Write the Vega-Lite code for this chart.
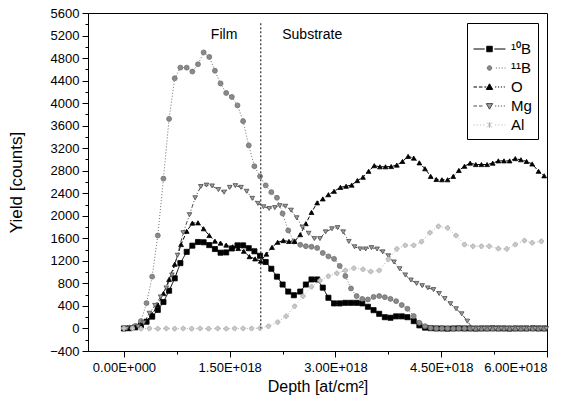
{
"$schema":"https://vega.github.io/schema/vega-lite/v6.json",
"autosize":{"type":"none"},
"width":459,"height":338,
"padding":{"left":88,"top":13,"right":32,"bottom":61},
"config":{"font":"Liberation Sans","view":{"stroke":"black","strokeWidth":1},"axis":{"grid":false,"domainColor":"black","tickColor":"black","labelColor":"black","titleColor":"black","titleFontWeight":"normal","labelFont":"Liberation Sans","titleFont":"Liberation Sans"}},
"datasets":{"main":[
{"s":"¹⁰B","x":0,"y":0},{"s":"¹⁰B","x":0.08,"y":5},{"s":"¹⁰B","x":0.16,"y":20},{"s":"¹⁰B","x":0.24,"y":55},{"s":"¹⁰B","x":0.32,"y":120},{"s":"¹⁰B","x":0.40,"y":210},{"s":"¹⁰B","x":0.48,"y":330},{"s":"¹⁰B","x":0.56,"y":470},{"s":"¹⁰B","x":0.64,"y":670},{"s":"¹⁰B","x":0.72,"y":890},{"s":"¹⁰B","x":0.80,"y":1160},{"s":"¹⁰B","x":0.89,"y":1360},{"s":"¹⁰B","x":0.97,"y":1470},{"s":"¹⁰B","x":1.05,"y":1535},{"s":"¹⁰B","x":1.13,"y":1530},{"s":"¹⁰B","x":1.21,"y":1480},{"s":"¹⁰B","x":1.29,"y":1410},{"s":"¹⁰B","x":1.37,"y":1345},{"s":"¹⁰B","x":1.45,"y":1350},{"s":"¹⁰B","x":1.53,"y":1420},{"s":"¹⁰B","x":1.61,"y":1475},{"s":"¹⁰B","x":1.69,"y":1475},{"s":"¹⁰B","x":1.77,"y":1425},{"s":"¹⁰B","x":1.85,"y":1370},{"s":"¹⁰B","x":1.93,"y":1290},{"s":"¹⁰B","x":2.01,"y":1180},{"s":"¹⁰B","x":2.09,"y":1060},{"s":"¹⁰B","x":2.17,"y":920},{"s":"¹⁰B","x":2.25,"y":780},{"s":"¹⁰B","x":2.33,"y":655},{"s":"¹⁰B","x":2.41,"y":590},{"s":"¹⁰B","x":2.50,"y":655},{"s":"¹⁰B","x":2.58,"y":780},{"s":"¹⁰B","x":2.66,"y":870},{"s":"¹⁰B","x":2.74,"y":870},{"s":"¹⁰B","x":2.82,"y":725},{"s":"¹⁰B","x":2.90,"y":545},{"s":"¹⁰B","x":2.98,"y":445},{"s":"¹⁰B","x":3.06,"y":445},{"s":"¹⁰B","x":3.14,"y":455},{"s":"¹⁰B","x":3.22,"y":455},{"s":"¹⁰B","x":3.30,"y":455},{"s":"¹⁰B","x":3.38,"y":445},{"s":"¹⁰B","x":3.46,"y":385},{"s":"¹⁰B","x":3.54,"y":325},{"s":"¹⁰B","x":3.62,"y":260},{"s":"¹⁰B","x":3.70,"y":200},{"s":"¹⁰B","x":3.78,"y":190},{"s":"¹⁰B","x":3.86,"y":215},{"s":"¹⁰B","x":3.94,"y":215},{"s":"¹⁰B","x":4.02,"y":200},{"s":"¹⁰B","x":4.11,"y":130},{"s":"¹⁰B","x":4.19,"y":55},{"s":"¹⁰B","x":4.27,"y":15},{"s":"¹⁰B","x":4.35,"y":5},{"s":"¹⁰B","x":4.43,"y":0},{"s":"¹⁰B","x":4.51,"y":0},{"s":"¹⁰B","x":4.59,"y":-3},{"s":"¹⁰B","x":4.67,"y":0},{"s":"¹⁰B","x":4.75,"y":2},{"s":"¹⁰B","x":4.83,"y":0},{"s":"¹⁰B","x":4.91,"y":0},{"s":"¹⁰B","x":4.99,"y":-2},{"s":"¹⁰B","x":5.07,"y":0},{"s":"¹⁰B","x":5.15,"y":0},{"s":"¹⁰B","x":5.23,"y":2},{"s":"¹⁰B","x":5.31,"y":0},{"s":"¹⁰B","x":5.39,"y":0},{"s":"¹⁰B","x":5.47,"y":-2},{"s":"¹⁰B","x":5.55,"y":0},{"s":"¹⁰B","x":5.63,"y":0},{"s":"¹⁰B","x":5.71,"y":0},{"s":"¹⁰B","x":5.80,"y":2},{"s":"¹⁰B","x":5.88,"y":0},{"s":"¹⁰B","x":5.96,"y":0},
{"s":"¹¹B","x":0,"y":0},{"s":"¹¹B","x":0.08,"y":15},{"s":"¹¹B","x":0.16,"y":45},{"s":"¹¹B","x":0.24,"y":130},{"s":"¹¹B","x":0.32,"y":450},{"s":"¹¹B","x":0.40,"y":920},{"s":"¹¹B","x":0.48,"y":1650},{"s":"¹¹B","x":0.56,"y":2660},{"s":"¹¹B","x":0.64,"y":3720},{"s":"¹¹B","x":0.72,"y":4440},{"s":"¹¹B","x":0.80,"y":4630},{"s":"¹¹B","x":0.89,"y":4630},{"s":"¹¹B","x":0.97,"y":4560},{"s":"¹¹B","x":1.05,"y":4690},{"s":"¹¹B","x":1.13,"y":4900},{"s":"¹¹B","x":1.21,"y":4820},{"s":"¹¹B","x":1.29,"y":4575},{"s":"¹¹B","x":1.37,"y":4350},{"s":"¹¹B","x":1.45,"y":4180},{"s":"¹¹B","x":1.53,"y":4110},{"s":"¹¹B","x":1.61,"y":3960},{"s":"¹¹B","x":1.69,"y":3680},{"s":"¹¹B","x":1.77,"y":3250},{"s":"¹¹B","x":1.85,"y":2880},{"s":"¹¹B","x":1.93,"y":2700},{"s":"¹¹B","x":2.01,"y":2540},{"s":"¹¹B","x":2.09,"y":2420},{"s":"¹¹B","x":2.17,"y":2320},{"s":"¹¹B","x":2.25,"y":2040},{"s":"¹¹B","x":2.33,"y":1740},{"s":"¹¹B","x":2.41,"y":1545},{"s":"¹¹B","x":2.50,"y":1485},{"s":"¹¹B","x":2.58,"y":1460},{"s":"¹¹B","x":2.66,"y":1450},{"s":"¹¹B","x":2.74,"y":1430},{"s":"¹¹B","x":2.82,"y":1340},{"s":"¹¹B","x":2.90,"y":1280},{"s":"¹¹B","x":2.98,"y":1235},{"s":"¹¹B","x":3.06,"y":1110},{"s":"¹¹B","x":3.14,"y":930},{"s":"¹¹B","x":3.22,"y":710},{"s":"¹¹B","x":3.30,"y":575},{"s":"¹¹B","x":3.38,"y":525},{"s":"¹¹B","x":3.46,"y":515},{"s":"¹¹B","x":3.54,"y":560},{"s":"¹¹B","x":3.62,"y":575},{"s":"¹¹B","x":3.70,"y":555},{"s":"¹¹B","x":3.78,"y":525},{"s":"¹¹B","x":3.86,"y":485},{"s":"¹¹B","x":3.94,"y":415},{"s":"¹¹B","x":4.02,"y":350},{"s":"¹¹B","x":4.11,"y":220},{"s":"¹¹B","x":4.19,"y":100},{"s":"¹¹B","x":4.27,"y":40},{"s":"¹¹B","x":4.35,"y":10},{"s":"¹¹B","x":4.43,"y":0},{"s":"¹¹B","x":4.51,"y":0},{"s":"¹¹B","x":4.59,"y":0},{"s":"¹¹B","x":4.67,"y":-3},{"s":"¹¹B","x":4.75,"y":0},{"s":"¹¹B","x":4.83,"y":0},{"s":"¹¹B","x":4.91,"y":2},{"s":"¹¹B","x":4.99,"y":0},{"s":"¹¹B","x":5.07,"y":0},{"s":"¹¹B","x":5.15,"y":-2},{"s":"¹¹B","x":5.23,"y":0},{"s":"¹¹B","x":5.31,"y":0},{"s":"¹¹B","x":5.39,"y":2},{"s":"¹¹B","x":5.47,"y":0},{"s":"¹¹B","x":5.55,"y":0},{"s":"¹¹B","x":5.63,"y":-2},{"s":"¹¹B","x":5.71,"y":0},{"s":"¹¹B","x":5.80,"y":0},{"s":"¹¹B","x":5.88,"y":0},{"s":"¹¹B","x":5.96,"y":0},
{"s":"O","x":0,"y":0},{"s":"O","x":0.08,"y":5},{"s":"O","x":0.16,"y":25},{"s":"O","x":0.24,"y":65},{"s":"O","x":0.32,"y":140},{"s":"O","x":0.40,"y":250},{"s":"O","x":0.48,"y":420},{"s":"O","x":0.56,"y":620},{"s":"O","x":0.64,"y":870},{"s":"O","x":0.72,"y":1140},{"s":"O","x":0.81,"y":1490},{"s":"O","x":0.89,"y":1725},{"s":"O","x":0.97,"y":1870},{"s":"O","x":1.05,"y":1875},{"s":"O","x":1.13,"y":1770},{"s":"O","x":1.21,"y":1650},{"s":"O","x":1.29,"y":1550},{"s":"O","x":1.37,"y":1515},{"s":"O","x":1.45,"y":1480},{"s":"O","x":1.54,"y":1450},{"s":"O","x":1.62,"y":1420},{"s":"O","x":1.70,"y":1370},{"s":"O","x":1.78,"y":1275},{"s":"O","x":1.86,"y":1235},{"s":"O","x":1.94,"y":1195},{"s":"O","x":2.02,"y":1320},{"s":"O","x":2.10,"y":1440},{"s":"O","x":2.18,"y":1530},{"s":"O","x":2.26,"y":1560},{"s":"O","x":2.34,"y":1545},{"s":"O","x":2.42,"y":1545},{"s":"O","x":2.50,"y":1665},{"s":"O","x":2.58,"y":1860},{"s":"O","x":2.66,"y":2060},{"s":"O","x":2.74,"y":2230},{"s":"O","x":2.82,"y":2300},{"s":"O","x":2.90,"y":2375},{"s":"O","x":2.98,"y":2435},{"s":"O","x":3.07,"y":2505},{"s":"O","x":3.15,"y":2525},{"s":"O","x":3.23,"y":2545},{"s":"O","x":3.31,"y":2625},{"s":"O","x":3.39,"y":2685},{"s":"O","x":3.47,"y":2790},{"s":"O","x":3.55,"y":2890},{"s":"O","x":3.63,"y":2870},{"s":"O","x":3.71,"y":2870},{"s":"O","x":3.79,"y":2875},{"s":"O","x":3.87,"y":2900},{"s":"O","x":3.95,"y":2965},{"s":"O","x":4.03,"y":3055},{"s":"O","x":4.11,"y":3025},{"s":"O","x":4.19,"y":2940},{"s":"O","x":4.27,"y":2835},{"s":"O","x":4.35,"y":2700},{"s":"O","x":4.43,"y":2645},{"s":"O","x":4.51,"y":2640},{"s":"O","x":4.59,"y":2640},{"s":"O","x":4.67,"y":2700},{"s":"O","x":4.75,"y":2805},{"s":"O","x":4.83,"y":2880},{"s":"O","x":4.91,"y":2935},{"s":"O","x":4.99,"y":2910},{"s":"O","x":5.07,"y":2910},{"s":"O","x":5.15,"y":2910},{"s":"O","x":5.23,"y":2935},{"s":"O","x":5.31,"y":2975},{"s":"O","x":5.39,"y":2975},{"s":"O","x":5.47,"y":2975},{"s":"O","x":5.55,"y":3015},{"s":"O","x":5.63,"y":2995},{"s":"O","x":5.71,"y":2965},{"s":"O","x":5.79,"y":2920},{"s":"O","x":5.88,"y":2790},{"s":"O","x":5.96,"y":2710},
{"s":"Mg","x":0.04,"y":0},{"s":"Mg","x":0.12,"y":10},{"s":"Mg","x":0.20,"y":35},{"s":"Mg","x":0.28,"y":100},{"s":"Mg","x":0.36,"y":270},{"s":"Mg","x":0.44,"y":410},{"s":"Mg","x":0.52,"y":560},{"s":"Mg","x":0.60,"y":720},{"s":"Mg","x":0.68,"y":950},{"s":"Mg","x":0.76,"y":1300},{"s":"Mg","x":0.84,"y":1700},{"s":"Mg","x":0.93,"y":2020},{"s":"Mg","x":1.01,"y":2320},{"s":"Mg","x":1.09,"y":2520},{"s":"Mg","x":1.17,"y":2545},{"s":"Mg","x":1.25,"y":2530},{"s":"Mg","x":1.34,"y":2465},{"s":"Mg","x":1.42,"y":2420},{"s":"Mg","x":1.50,"y":2505},{"s":"Mg","x":1.58,"y":2535},{"s":"Mg","x":1.66,"y":2505},{"s":"Mg","x":1.74,"y":2435},{"s":"Mg","x":1.82,"y":2310},{"s":"Mg","x":1.90,"y":2220},{"s":"Mg","x":1.98,"y":2160},{"s":"Mg","x":2.06,"y":2130},{"s":"Mg","x":2.14,"y":2145},{"s":"Mg","x":2.21,"y":2180},{"s":"Mg","x":2.29,"y":2170},{"s":"Mg","x":2.37,"y":2100},{"s":"Mg","x":2.45,"y":1965},{"s":"Mg","x":2.53,"y":1800},{"s":"Mg","x":2.62,"y":1690},{"s":"Mg","x":2.70,"y":1595},{"s":"Mg","x":2.78,"y":1595},{"s":"Mg","x":2.86,"y":1715},{"s":"Mg","x":2.95,"y":1770},{"s":"Mg","x":3.03,"y":1790},{"s":"Mg","x":3.11,"y":1715},{"s":"Mg","x":3.19,"y":1545},{"s":"Mg","x":3.27,"y":1450},{"s":"Mg","x":3.35,"y":1412},{"s":"Mg","x":3.43,"y":1412},{"s":"Mg","x":3.51,"y":1435},{"s":"Mg","x":3.59,"y":1410},{"s":"Mg","x":3.67,"y":1360},{"s":"Mg","x":3.75,"y":1290},{"s":"Mg","x":3.83,"y":1180},{"s":"Mg","x":3.91,"y":1060},{"s":"Mg","x":3.99,"y":950},{"s":"Mg","x":4.07,"y":860},{"s":"Mg","x":4.15,"y":800},{"s":"Mg","x":4.23,"y":760},{"s":"Mg","x":4.31,"y":720},{"s":"Mg","x":4.39,"y":690},{"s":"Mg","x":4.47,"y":620},{"s":"Mg","x":4.55,"y":530},{"s":"Mg","x":4.63,"y":440},{"s":"Mg","x":4.71,"y":350},{"s":"Mg","x":4.79,"y":260},{"s":"Mg","x":4.87,"y":130},{"s":"Mg","x":4.95,"y":0},{"s":"Mg","x":5.03,"y":0},{"s":"Mg","x":5.11,"y":0},{"s":"Mg","x":5.19,"y":0},{"s":"Mg","x":5.27,"y":0},{"s":"Mg","x":5.35,"y":0},{"s":"Mg","x":5.43,"y":0},{"s":"Mg","x":5.51,"y":0},{"s":"Mg","x":5.59,"y":0},{"s":"Mg","x":5.67,"y":0},{"s":"Mg","x":5.75,"y":0},{"s":"Mg","x":5.83,"y":0},{"s":"Mg","x":5.91,"y":0},{"s":"Mg","x":5.99,"y":0},
{"s":"Al","x":0.0,"y":0},{"s":"Al","x":0.12,"y":0},{"s":"Al","x":0.24,"y":-5},{"s":"Al","x":0.36,"y":0},{"s":"Al","x":0.48,"y":-5},{"s":"Al","x":0.60,"y":0},{"s":"Al","x":0.72,"y":-5},{"s":"Al","x":0.84,"y":0},{"s":"Al","x":0.96,"y":-5},{"s":"Al","x":1.08,"y":0},{"s":"Al","x":1.20,"y":-5},{"s":"Al","x":1.33,"y":0},{"s":"Al","x":1.45,"y":-5},{"s":"Al","x":1.57,"y":0},{"s":"Al","x":1.69,"y":0},{"s":"Al","x":1.81,"y":0},{"s":"Al","x":1.93,"y":5},{"s":"Al","x":2.05,"y":40},{"s":"Al","x":2.18,"y":112},{"s":"Al","x":2.30,"y":218},{"s":"Al","x":2.42,"y":395},{"s":"Al","x":2.54,"y":573},{"s":"Al","x":2.66,"y":740},{"s":"Al","x":2.78,"y":850},{"s":"Al","x":2.90,"y":928},{"s":"Al","x":3.02,"y":980},{"s":"Al","x":3.14,"y":1030},{"s":"Al","x":3.26,"y":1070},{"s":"Al","x":3.39,"y":1050},{"s":"Al","x":3.50,"y":1010},{"s":"Al","x":3.62,"y":1030},{"s":"Al","x":3.75,"y":1230},{"s":"Al","x":3.87,"y":1412},{"s":"Al","x":3.99,"y":1475},{"s":"Al","x":4.11,"y":1475},{"s":"Al","x":4.22,"y":1540},{"s":"Al","x":4.34,"y":1700},{"s":"Al","x":4.46,"y":1814},{"s":"Al","x":4.59,"y":1785},{"s":"Al","x":4.71,"y":1650},{"s":"Al","x":4.83,"y":1490},{"s":"Al","x":4.95,"y":1460},{"s":"Al","x":5.07,"y":1460},{"s":"Al","x":5.18,"y":1460},{"s":"Al","x":5.31,"y":1418},{"s":"Al","x":5.43,"y":1412},{"s":"Al","x":5.55,"y":1490},{"s":"Al","x":5.68,"y":1560},{"s":"Al","x":5.79,"y":1520},{"s":"Al","x":5.92,"y":1548}
]},
"layer":[
{"data":{"name":"main"},
 "mark":{"type":"line","strokeWidth":1},
 "encoding":{
  "x":{"field":"x","type":"quantitative","scale":{"domain":[-0.51,6.0],"nice":false,"zero":false},
   "axis":{"orient":"bottom","values":[0,1.5,3,4.5,6],"tickSize":6,"labelPadding":4,"labelFontSize":13,"labelExpr":"format(datum.value,'.2f') + (datum.value == 0 ? 'E+000' : 'E+018')","title":"Depth [at/cm²]","titleFontSize":16,"titlePadding":4}},
  "y":{"field":"y","type":"quantitative","scale":{"domain":[-400,5600],"nice":false,"zero":false},
   "axis":{"orient":"left","values":[-400,0,400,800,1200,1600,2000,2400,2800,3200,3600,4000,4400,4800,5200,5600],"format":"d","tickSize":6,"labelPadding":3,"labelFontSize":13,"title":"Yield [counts]","titleFontSize":17,"titlePadding":24}},
  "stroke":{"field":"s","type":"nominal","scale":{"domain":["¹⁰B","¹¹B","O","Mg","Al"],"range":["#000000","#6e6e6e","#000000","#4a4a4a","#b4b4b4"]},"legend":null},
  "strokeDash":{"field":"s","type":"nominal","scale":{"domain":["¹⁰B","¹¹B","O","Mg","Al"],"range":[[1,0],[1,2],[4,2],[4,2,1,2],[1,2]]},"legend":null}
 }},
{"data":{"name":"main"},
 "mark":{"type":"point","filled":true,"strokeWidth":0.8,"opacity":1},
 "encoding":{
  "x":{"field":"x","type":"quantitative","axis":null},
  "y":{"field":"y","type":"quantitative","axis":null},
  "shape":{"field":"s","type":"nominal","scale":{"domain":["¹⁰B","¹¹B","O","Mg","Al"],"range":["square","circle","triangle-up","triangle-down","cross"]},"legend":null},
  "size":{"field":"s","type":"nominal","scale":{"domain":["¹⁰B","¹¹B","O","Mg","Al"],"range":[26,20,28,26,18]},"legend":null},
  "fill":{"field":"s","type":"nominal","scale":{"domain":["¹⁰B","¹¹B","O","Mg","Al"],"range":["#000000","#8a8a8a","#000000","#a0a0a0","#cccccc"]},"legend":null},
  "stroke":{"field":"s","type":"nominal","legend":null}
 }},
{"data":{"name":"main"},
 "transform":[{"filter":"false"}],
 "mark":{"type":"point","filled":true,"strokeWidth":1,"opacity":1},
 "encoding":{
  "x":{"field":"x","type":"quantitative","axis":null},
  "y":{"field":"y","type":"quantitative","axis":null},
  "shape":{"field":"s","type":"nominal","scale":{"domain":["¹⁰B","¹¹B","O","Mg","Al"],"range":[
   "M-1,0H-0.3M0.3,0H1M-0.17,-0.17H0.17V0.17H-0.17Z",
   "M0.4,0H0.47M0.58,0H0.65M0.76,0H0.83M0.94,0H1M0.14,0A0.14,0.14,0,1,1,-0.14,0A0.14,0.14,0,1,1,0.14,0Z",
   "M-1,0H-0.78M-0.66,0H-0.44M-0.32,0H-0.2M0.35,0H0.42M0.53,0H0.6M0.71,0H0.78M0.89,0H0.96M0,-0.2L0.2,0.15H-0.2Z",
   "M-1,0H-0.78M-0.66,0H-0.44M0.35,0H0.42M0.53,0H0.6M0.71,0H0.78M0.89,0H0.96M0,0.2L0.2,-0.15H-0.2Z",
   "M-1,0H-0.93M-0.8,0H-0.73M-0.6,0H-0.53M-0.4,0H-0.33M0.35,0H0.42M0.55,0H0.62M0.75,0H0.82M0.95,0H1M-0.15,-0.15L0.15,0.15M0.15,-0.15L-0.15,0.15M0,-0.18V0.18"]},
   "legend":{"orient":"none","legendX":379,"legendY":10,"title":" ","titleFontSize":9,"titlePadding":3,"padding":6,"strokeColor":"black","fillColor":"white","symbolSize":1024,"symbolStrokeWidth":1,"symbolOpacity":1,"clipHeight":16,"rowPadding":3,"labelFontSize":15,"labelColor":"black","labelOffset":5}},
  "fill":{"field":"s","type":"nominal","scale":{"domain":["¹⁰B","¹¹B","O","Mg","Al"],"range":["#000000","#8a8a8a","#000000","#a0a0a0","#cccccc"]},
   "legend":{"orient":"none","legendX":379,"legendY":10,"title":" ","titleFontSize":9,"titlePadding":3,"padding":6,"strokeColor":"black","fillColor":"white","symbolSize":1024,"symbolStrokeWidth":1,"symbolOpacity":1,"clipHeight":16,"rowPadding":3,"labelFontSize":15,"labelColor":"black","labelOffset":5}},
  "stroke":{"field":"s","type":"nominal","scale":{"domain":["¹⁰B","¹¹B","O","Mg","Al"],"range":["#000000","#6e6e6e","#000000","#4a4a4a","#b4b4b4"]},
   "legend":{"orient":"none","legendX":379,"legendY":10,"title":" ","titleFontSize":9,"titlePadding":3,"padding":6,"strokeColor":"black","fillColor":"white","symbolSize":1024,"symbolStrokeWidth":1,"symbolOpacity":1,"clipHeight":16,"rowPadding":3,"labelFontSize":15,"labelColor":"black","labelOffset":5}}
 }},
{"data":{"values":[{"label":"Film","x":1.42,"y":5213},{"label":"Substrate","x":2.67,"y":5213}]},
 "mark":{"type":"text","fontSize":14,"color":"black","align":"center","baseline":"middle"},
 "encoding":{"x":{"field":"x","type":"quantitative","axis":null},"y":{"field":"y","type":"quantitative","axis":null},"text":{"field":"label"}}},
{"data":{"values":[{"x":1.94,"y":5420,"y2":0}]},
 "mark":{"type":"rule","color":"#333333","strokeWidth":1.2,"strokeDash":[2,2]},
 "encoding":{
  "x":{"field":"x","type":"quantitative","axis":{"orient":"bottom","values":[0.75,2.25,3.75,5.25],"labels":false,"domain":false,"tickSize":3,"title":null}},
  "y":{"field":"y","type":"quantitative","axis":{"orient":"left","values":[-200,200,600,1000,1400,1800,2200,2600,3000,3400,3800,4200,4600,5000,5400],"labels":false,"domain":false,"tickSize":3,"title":null}},
  "y2":{"field":"y2"}}}
],
"resolve":{"scale":{"shape":"independent"},"axis":{"x":"independent","y":"independent"},"legend":{"shape":"independent","fill":"independent","stroke":"independent","strokeDash":"independent","size":"independent"}}
}
